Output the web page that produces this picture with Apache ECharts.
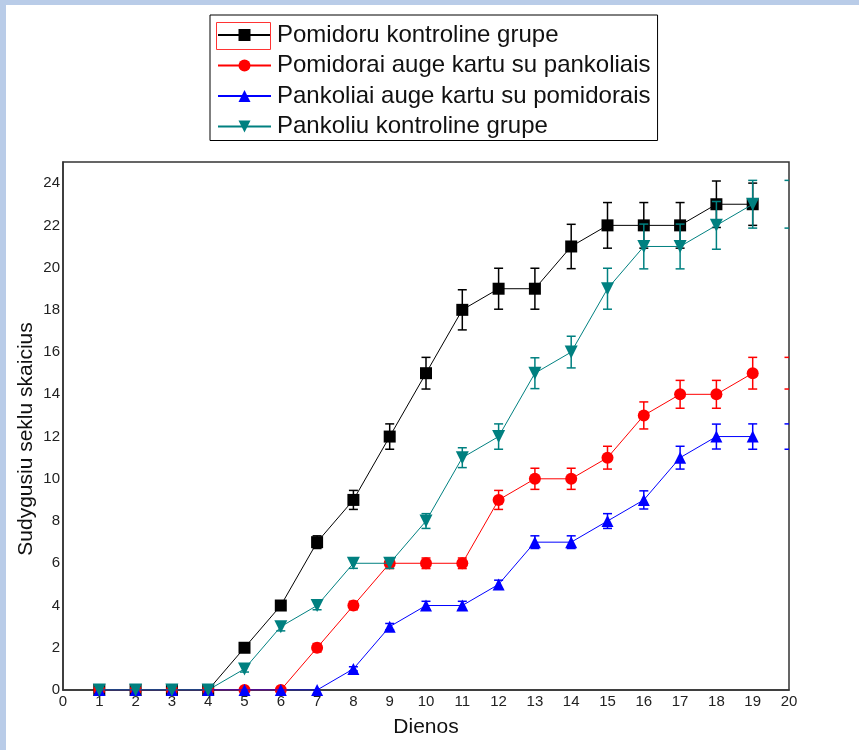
<!DOCTYPE html>
<html>
<head>
<meta charset="utf-8">
<script src="https://cdn.jsdelivr.net/npm/echarts@6/dist/echarts.min.js"></script>
<style>
  html, body { margin: 0; padding: 0; background: #ffffff; }
  #chart { width: 859px; height: 750px; }
</style>
</head>
<body>
<div id="chart"></div>
<script>
// Days after sowing
const days = [1, 2, 3, 4, 5, 6, 7, 8, 9, 10, 11, 12, 13, 14, 15, 16, 17, 18, 19];

// Germinated seeds (mean) and error per group
const tomatoControl    = [0, 0, 0, 0, 2, 4, 7, 9, 12, 15, 18, 19, 19, 21, 22, 22, 22, 23, 23];
const tomatoControlErr = [0, 0, 0, 0, 0.2, 0.2, 0.3, 0.45, 0.6, 0.75, 0.95, 0.97, 0.97, 1.05, 1.08, 1.08, 1.08, 1.1, 1.0];

const tomatoWithFennel    = [0, 0, 0, 0, 0, 0, 2, 4, 6, 6, 6, 9, 10, 10, 11, 13, 14, 14, 15];
const tomatoWithFennelErr = [0, 0, 0, 0, 0, 0, 0.2, 0.2, 0.25, 0.25, 0.25, 0.45, 0.5, 0.5, 0.54, 0.64, 0.66, 0.66, 0.75];

const fennelWithTomato    = [0, 0, 0, 0, 0, 0, 0, 1, 3, 4, 4, 5, 7, 7, 8, 9, 11, 12, 12];
const fennelWithTomatoErr = [0, 0, 0, 0, 0, 0, 0, 0.1, 0.15, 0.2, 0.2, 0.2, 0.3, 0.3, 0.35, 0.43, 0.54, 0.59, 0.6];

const fennelControl    = [0, 0, 0, 0, 1, 3, 4, 6, 6, 8, 11, 12, 15, 16, 19, 21, 21, 22, 23];
const fennelControlErr = [0, 0, 0, 0, 0.15, 0.2, 0.2, 0.24, 0.24, 0.35, 0.47, 0.6, 0.73, 0.75, 0.97, 1.06, 1.06, 1.13, 1.13];

const seriesNames = [
  'Pomidoru kontroline grupe',
  'Pomidorai auge kartu su pankoliais',
  'Pankoliai auge kartu su pomidorais',
  'Pankoliu kontroline grupe'
];

const xTicks = { min: 0, max: 20, step: 1 };
const yTicks = { min: 0, max: 25, step: 2 };

const FONT = 'Arial, "Liberation Sans", sans-serif';

const groups = [
  { name: seriesNames[0], color: '#000000', symbol: 'rect',     size: 12, rotate: 0,   values: tomatoControl,    err: tomatoControlErr,    edgeCaps: false },
  { name: seriesNames[1], color: '#ff0000', symbol: 'circle',   size: 12, rotate: 0,   values: tomatoWithFennel, err: tomatoWithFennelErr, edgeCaps: true },
  { name: seriesNames[2], color: '#0000ff', symbol: 'triangle', size: 12, rotate: 0,   values: fennelWithTomato, err: fennelWithTomatoErr, edgeCaps: true },
  { name: seriesNames[3], color: '#008080', symbol: 'triangle', size: 13, rotate: 180, values: fennelControl,    err: fennelControlErr,    edgeCaps: true }
];

function errorBarRenderer(g) {
  const capHalf = 4.5;
  return function (params, api) {
    const x = api.value(0), y = api.value(1), e = api.value(2);
    if (!e) return null;
    const style = { stroke: g.color, lineWidth: 1.5, fill: null };
    const top = api.coord([x, y + e]);
    const bot = api.coord([x, y - e]);
    const children = [
      { type: 'line', shape: { x1: top[0], y1: top[1], x2: bot[0], y2: bot[1] }, style },
      { type: 'line', shape: { x1: top[0] - capHalf, y1: top[1], x2: top[0] + capHalf, y2: top[1] }, style },
      { type: 'line', shape: { x1: bot[0] - capHalf, y1: bot[1], x2: bot[0] + capHalf, y2: bot[1] }, style }
    ];
    // caps of the last day repeated on the right frame edge (clipped by the grid)
    if (g.edgeCaps && params.dataIndex === days.length - 1) {
      const et = api.coord([xTicks.max, y + e]);
      const eb = api.coord([xTicks.max, y - e]);
      children.push(
        { type: 'line', shape: { x1: et[0] - capHalf, y1: et[1], x2: et[0] + capHalf, y2: et[1] }, style },
        { type: 'line', shape: { x1: eb[0] - capHalf, y1: eb[1], x2: eb[0] + capHalf, y2: eb[1] }, style }
      );
    }
    return { type: 'group', children };
  };
}

const series = [];
groups.forEach((g, i) => {
  series.push({
    type: 'custom',
    name: g.name + ' (klaida)',
    z: 2 * i + 1,
    clip: true,
    silent: true,
    data: days.map((d, k) => [d, g.values[k], g.err[k]]),
    renderItem: errorBarRenderer(g)
  });
  series.push({
    type: 'line',
    name: g.name,
    z: 2 * i + 2,
    color: g.color,
    data: days.map((d, k) => [d, g.values[k]]),
    symbol: g.symbol,
    symbolSize: g.size,
    symbolRotate: g.rotate,
    showAllSymbol: true,
    animation: false,
    lineStyle: { color: g.color, width: 1 },
    itemStyle: { color: g.color, opacity: 1 }
  });
});

const chart = echarts.init(document.getElementById('chart'), null, { renderer: 'canvas' });

chart.setOption({
  animation: false,
  backgroundColor: '#ffffff',
  grid: {
    left: 63, top: 162, right: 70, bottom: 60,
    show: true, borderColor: '#333333', borderWidth: 1.5, backgroundColor: 'transparent'
  },
  xAxis: {
    type: 'value',
    min: xTicks.min, max: xTicks.max, interval: xTicks.step,
    axisLine: { show: true, lineStyle: { color: '#333333', width: 1.5 } },
    axisTick: { show: false },
    splitLine: { show: false },
    axisLabel: { color: '#222222', fontSize: 15, fontFamily: FONT, margin: 4 }
  },
  yAxis: {
    type: 'value',
    min: yTicks.min, max: yTicks.max, interval: yTicks.step,
    axisLine: { show: true, lineStyle: { color: '#333333', width: 1.5 } },
    axisTick: { show: false },
    splitLine: { show: false },
    axisLabel: {
      color: '#222222', fontSize: 15, fontFamily: FONT, margin: 3,
      showMaxLabel: false,
      formatter: v => (v % yTicks.step === 0 ? String(v) : '')
    }
  },
  legend: {
    data: seriesNames,
    orient: 'vertical',
    left: 210, top: 15,
    padding: [8, 7, 2, 7],
    itemGap: 6.5,
    itemWidth: 53,
    itemHeight: 15,
    borderColor: '#000000',
    borderWidth: 1,
    selectedMode: false,
    textStyle: { fontSize: 24, fontFamily: FONT, color: '#111111', padding: [0, 0, 0, 1] }
  },
  graphic: [
    { type: 'rect', left: 0, top: 0, shape: { width: 859, height: 5 }, style: { fill: '#b9cce8' }, silent: true },
    { type: 'rect', left: 0, top: 0, shape: { width: 6, height: 750 }, style: { fill: '#b9cce8' }, silent: true },
    { type: 'rect', shape: { x: 216.5, y: 22.5, width: 54, height: 27 }, style: { fill: null, stroke: '#ff3333', lineWidth: 1 }, silent: true, z: 100 },
    {
      type: 'text', x: 26, y: 439, rotation: Math.PI / 2,
      style: { text: 'Sudygusiu seklu skaicius', font: '21px ' + FONT, fill: '#111111', align: 'center', verticalAlign: 'middle' },
      silent: true
    },
    {
      type: 'text', x: 426, y: 727,
      style: { text: 'Dienos', font: '21px ' + FONT, fill: '#111111', align: 'center', verticalAlign: 'middle' },
      silent: true
    }
  ],
  series
});
</script>
</body>
</html>
